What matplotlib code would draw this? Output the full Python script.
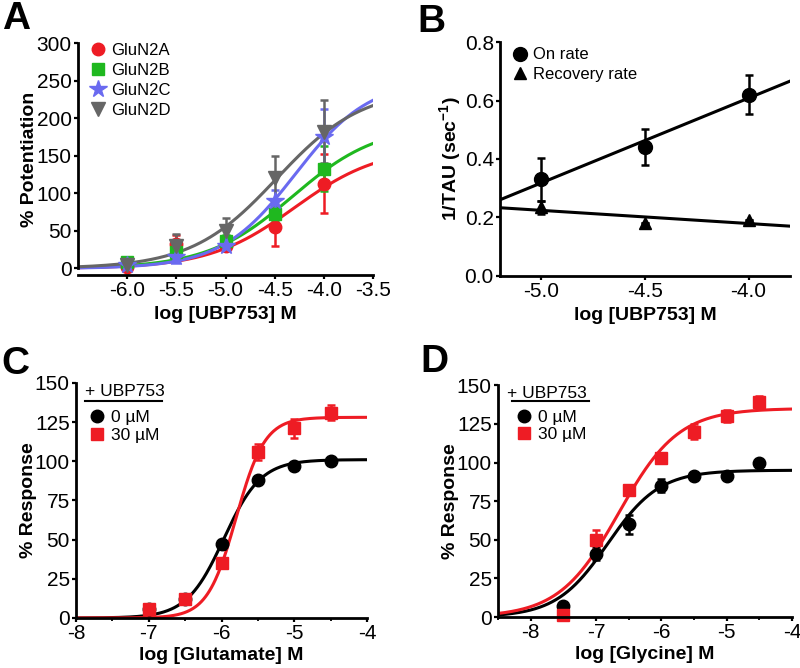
import numpy as np
import matplotlib
matplotlib.use('Agg')
import matplotlib.pyplot as plt
from matplotlib.lines import Line2D
from matplotlib.ticker import MultipleLocator

plt.rcParams['font.family'] = ['Liberation Sans', 'DejaVu Sans']
plt.rcParams['mathtext.fontset'] = 'custom'
plt.rcParams['mathtext.rm'] = 'Liberation Sans:bold'
plt.rcParams['mathtext.default'] = 'rm'
plt.rcParams['axes.unicode_minus'] = False

# ---- panel A data: potentiation by UBP753 ----
logA = [-6.0, -5.5, -5.0, -4.5, -4.0]
subunits = ['GluN2A', 'GluN2B', 'GluN2C', 'GluN2D']
pot_2A = [2, 32, 30, 55, 113]
err_2A = [3, 12, 6, 25, 39]
pot_2B = [8, 22, 37, 73, 133]
err_2B = [3, 10, 8, 10, 30]
pot_2C = [5, 15, 30, 90, 175]
err_2C = [3, 8, 6, 15, 37]
pot_2D = [5, 30, 50, 120, 182]
err_2D = [3, 16, 17, 30, 42]
# Hill fit params: top, logEC50, slope
fit_2A = [162, -4.30, 1.0]
fit_2B = [192, -4.32, 1.0]
fit_2C = [252, -4.29, 1.15]
fit_2D = [240, -4.48, 1.0]

# ---- panel B data: rates ----
logB = [-5.0, -4.5, -4.0]
on_rate = [0.33, 0.44, 0.62]
on_err = [0.075, 0.062, 0.067]
rec_rate = [0.235, 0.18, 0.19]
rec_err = [0.022, 0.0, 0.0]

# ---- panel C data: glutamate CRC ----
logGlu = [-7.0, -6.5, -6.0, -5.5, -5.0, -4.5]
glu_0 = [6, 12, 47, 88, 97, 100]
glu_0_err = [1, 1, 3, 2, 2, 2]
glu_30 = [6, 12, 35, 106, 121, 131]
glu_30_err = [1, 1, 3, 5, 6, 5]
fit_glu_0 = [101, -5.97, 1.7]
fit_glu_30 = [128, -5.80, 2.2]

# ---- panel D data: glycine CRC ----
logGly = [-7.5, -7.0, -6.5, -6.0, -5.5, -5.0, -4.5]
gly_0 = [7, 41, 60, 85, 91, 91, 100]
gly_0_err = [1, 4, 6, 4, 2, 2, 2]
gly_30 = [1, 50, 82, 103, 120, 130, 139]
gly_30_err = [1, 6, 3, 3, 5, 4, 4]
fit_gly_0 = [95, -6.82, 1.1]
fit_gly_30 = [135, -6.65, 0.95]

RED = '#ee1c24'


def hill(x, p):
    top, ec50, n = p
    return top / (1 + 10 ** (n * (ec50 - x)))


def style(ax):
    for s in ['top', 'right']:
        ax.spines[s].set_visible(False)
    for s in ['left', 'bottom']:
        ax.spines[s].set_linewidth(2)
    ax.tick_params(width=1.6, length=3, labelsize=15, direction='out', pad=1.5)
    ax.tick_params(which='minor', width=1.3, length=2)


def handle(m, c, ms):
    return Line2D([], [], ls='none', marker=m, color=c, ms=ms)


fig = plt.figure(figsize=(8, 6.68), dpi=100)

# ---------------- A ----------------
ax = fig.add_axes([0.0975, 0.588, 0.369, 0.347])
style(ax)
colsA = ['#ee1c24', '#1fb81f', '#6a6af0', '#666666']
marksA = ['o', 's', '*', 'v']
sizesA = [9, 9, 13, 10]
xs = np.linspace(-6.5, -3.5, 300)
hA = []
for lab, y, e, p, c, m, ms in zip(subunits, [pot_2A, pot_2B, pot_2C, pot_2D],
                                 [err_2A, err_2B, err_2C, err_2D],
                                 [fit_2A, fit_2B, fit_2C, fit_2D], colsA, marksA, sizesA):
    ax.plot(xs, hill(xs, p), color=c, lw=2.2)
    ax.errorbar(logA, y, yerr=e, fmt=m, color=c, ms=ms, capsize=3, elinewidth=1.8,
                capthick=1.8, clip_on=False)
    hA.append(handle(m, c, ms))
ax.set_xlim(-6.5, -3.5)
ax.set_ylim(-9, 300)
ax.spines['left'].set_bounds(0, 300)
ax.set_xticks([-6.0, -5.5, -5.0, -4.5, -4.0, -3.5])
ax.set_xticklabels(['-6.0', '-5.5', '-5.0', '-4.5', '-4.0', '-3.5'])
ax.set_yticks(range(0, 301, 50))
ax.set_xlabel('log [UBP753] M', fontsize=14, fontweight='bold', labelpad=4)
ax.set_ylabel('% Potentiation', fontsize=14, fontweight='bold', labelpad=-1)
ax.legend(hA, subunits, loc='upper left', frameon=False, fontsize=12, handletextpad=0.2,
          labelspacing=0.3, borderaxespad=0.2, bbox_to_anchor=(0.0, 1.045),
          handlelength=1.2)
fig.text(0.002, 0.998, 'A', fontsize=28, fontweight='bold', va='top')

# ---------------- B ----------------
ax = fig.add_axes([0.625, 0.587, 0.3625, 0.350])
style(ax)
xb = np.array([-5.2, -3.8])
k1 = np.polyfit(logB, on_rate, 1)
k2 = np.polyfit(logB, rec_rate, 1)
ax.plot(xb, np.polyval(k1, xb), color='black', lw=2.2)
ax.plot(xb, np.polyval(k2, xb), color='black', lw=2.2)
ax.errorbar(logB, on_rate, yerr=on_err, fmt='o', color='black', ms=10, capsize=3,
            elinewidth=1.8, capthick=1.8)
ax.errorbar(logB, rec_rate, yerr=rec_err, fmt='^', color='black', ms=9, capsize=3,
            elinewidth=1.8, capthick=1.8)
ax.set_xlim(-5.2, -3.8)
ax.set_ylim(0, 0.8)
ax.set_xticks([-5.0, -4.5, -4.0])
ax.set_xticklabels(['-5.0', '-4.5', '-4.0'])
ax.set_yticks([0.0, 0.2, 0.4, 0.6, 0.8])
ax.set_yticklabels(['0.0', '0.2', '0.4', '0.6', '0.8'])
ax.set_xlabel('log [UBP753] M', fontsize=14, fontweight='bold', labelpad=4)
ax.set_ylabel('1/TAU (sec$^{-1}$)', fontsize=14, fontweight='bold', labelpad=1)
ax.legend([handle('o', 'black', 10), handle('^', 'black', 9)], ['On rate', 'Recovery rate'],
          loc='upper left', frameon=False, fontsize=12, handletextpad=0.2,
          labelspacing=0.25, borderaxespad=0.2, bbox_to_anchor=(0.0, 1.02),
          handlelength=1.2)
fig.text(0.522, 0.994, 'B', fontsize=28, fontweight='bold', va='top')

# ---------------- C ----------------
ax = fig.add_axes([0.095, 0.0749, 0.364, 0.352])
style(ax)
xs = np.linspace(-8, -4, 300)
ax.plot(xs, hill(xs, fit_glu_0), color='black', lw=2.2)
ax.plot(xs, hill(xs, fit_glu_30), color=RED, lw=2.2)
ax.errorbar(logGlu, glu_0, yerr=glu_0_err, fmt='o', color='black', ms=9, capsize=3,
            elinewidth=1.8, capthick=1.8, clip_on=False)
ax.errorbar(logGlu, glu_30, yerr=glu_30_err, fmt='s', color=RED, ms=9, capsize=3,
            elinewidth=1.8, capthick=1.8, clip_on=False)
ax.set_xlim(-8, -4)
ax.set_ylim(0, 150)
ax.set_xticks(range(-8, -3))
ax.xaxis.set_minor_locator(MultipleLocator(0.5))
ax.set_yticks(range(0, 151, 25))
ax.set_xlabel('log [Glutamate] M', fontsize=14, fontweight='bold', labelpad=3)
ax.set_ylabel('% Response', fontsize=14, fontweight='bold', labelpad=-2)
ax.text(0.03, 0.995, '+ UBP753', transform=ax.transAxes, fontsize=12.5, va='top')
ax.plot([0.03, 0.295], [0.923, 0.923], transform=ax.transAxes, color='black', lw=1.5)
ax.legend([handle('o', 'black', 9), handle('s', RED, 9)], ['0 \u00b5M', '30 \u00b5M'],
          loc='upper left', frameon=False, fontsize=12.5, handletextpad=0.3,
          labelspacing=0.15, bbox_to_anchor=(0.02, 0.915), handlelength=1.0,
          borderaxespad=0)
fig.text(0.002, 0.482, 'C', fontsize=28, fontweight='bold', va='top')

# ---------------- D ----------------
ax = fig.add_axes([0.6225, 0.0763, 0.3675, 0.347])
style(ax)
xs = np.linspace(-8.5, -4, 300)
ax.plot(xs, hill(xs, fit_gly_0), color='black', lw=2.2)
ax.plot(xs, hill(xs, fit_gly_30), color=RED, lw=2.2)
ax.errorbar(logGly, gly_0, yerr=gly_0_err, fmt='o', color='black', ms=9, capsize=3,
            elinewidth=1.8, capthick=1.8, clip_on=False)
ax.errorbar(logGly, gly_30, yerr=gly_30_err, fmt='s', color=RED, ms=9, capsize=3,
            elinewidth=1.8, capthick=1.8, clip_on=False)
ax.set_xlim(-8.5, -4)
ax.set_ylim(0, 150)
ax.set_xticks(range(-8, -3))
ax.xaxis.set_minor_locator(MultipleLocator(0.5))
ax.set_yticks(range(0, 151, 25))
ax.set_xlabel('log [Glycine] M', fontsize=14, fontweight='bold', labelpad=3)
ax.set_ylabel('% Response', fontsize=14, fontweight='bold', labelpad=-2)
ax.text(0.03, 0.995, '+ UBP753', transform=ax.transAxes, fontsize=12.5, va='top')
ax.plot([0.047, 0.31], [0.931, 0.931], transform=ax.transAxes, color='black', lw=1.5)
ax.legend([handle('o', 'black', 9), handle('s', RED, 9)], ['0 \u00b5M', '30 \u00b5M'],
          loc='upper left', frameon=False, fontsize=12.5, handletextpad=0.3,
          labelspacing=0.15, bbox_to_anchor=(0.035, 0.925), handlelength=1.0,
          borderaxespad=0)
fig.text(0.525, 0.485, 'D', fontsize=28, fontweight='bold', va='top')

fig.savefig('out.png', dpi=100)
